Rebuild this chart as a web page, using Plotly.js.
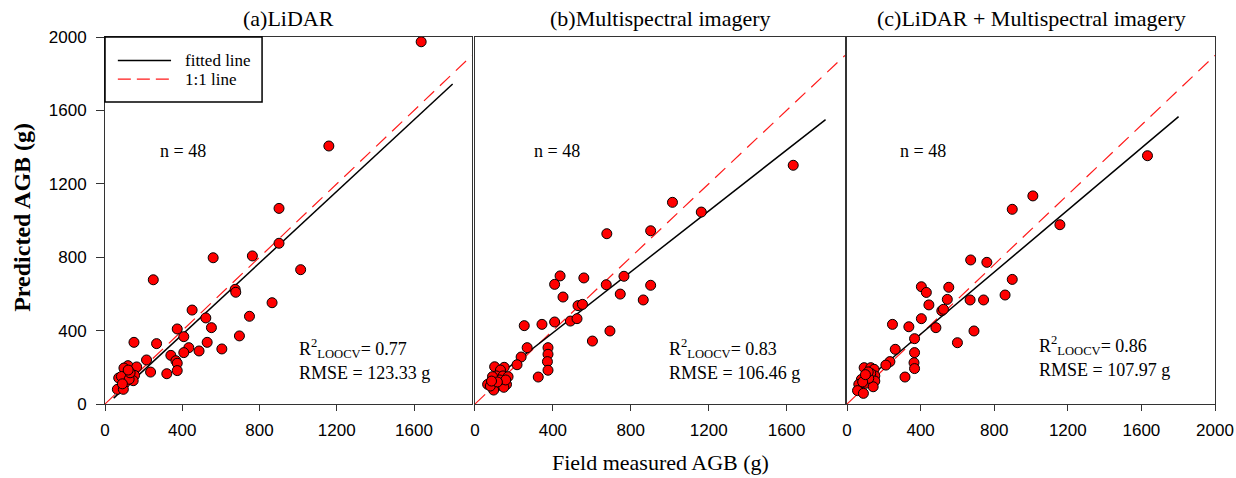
<!DOCTYPE html>
<html>
<head>
<meta charset="utf-8">
<script src="https://cdn.plot.ly/plotly-3.0.1.min.js"></script>
<style>
  html, body { margin: 0; padding: 0; background: #ffffff; }
  #chart { width: 1236px; height: 478px; }
</style>
</head>
<body>
<div id="chart"></div>
<script>
// ---------- Data ----------
// (a) LiDAR
const lidarObserved = [1637,1159,901,901,560,763,1013,250,674,677,865,451,522,748,551,374,696,408,150,267,529,434,605,487,408,341,215,367,374,374,236,320,119,164,98,71,112,140,153,146,102,64,95,85,125,130,90,120];
const lidarPredicted = [1974,1406,1066,876,797,807,732,677,625,609,552,512,469,478,416,409,371,367,336,329,336,307,300,289,280,265,240,236,222,182,174,165,209,202,196,142,153,147,156,127,113,80,80,150,135,170,110,185];
// (b) Multispectral imagery
const msObserved = [1634,1014,1162,677,902,437,409,559,765,674,902,452,746,864,529,552,253,344,409,490,524,693,603,268,375,375,237,372,216,375,325,101,150,131,110,144,170,65,121,162,96,148,79,127,158,90,115,85];
const msPredicted = [1301,1099,1046,928,944,698,652,687,696,650,647,583,599,567,536,543,427,434,447,452,465,398,343,307,307,271,256,231,214,184,147,203,200,185,153,153,149,107,102,107,76,91,98,131,131,149,120,125];
// (c) LiDAR + Multispectral imagery
const comboObserved = [1633,1010,898,1157,672,760,898,404,431,553,859,545,669,742,445,515,524,247,336,404,483,690,600,367,262,367,233,211,364,367,315,93,129,147,107,151,129,78,102,151,64,142,57,89,118,115,85,100];
const comboPredicted = [1353,1134,1061,977,785,772,679,639,608,636,594,570,567,567,540,508,516,434,421,465,416,398,334,356,298,280,231,212,225,193,147,198,198,189,149,153,167,134,113,125,107,94,73,58,140,175,120,160];

// Fitted regression lines (end points)
const fitA_x = [45, 1800], fitA_y = [32, 1744];
const fitB_x = [70, 1800], fitB_y = [114, 1550];
const fitC_x = [61, 1802], fitC_y = [94, 1566];
// 1:1 reference lines as drawn in each panel
const refA_x = [0, 1900], refA_y = [0, 1900];
const refB_x = [0, 1900], refB_y = [0, 1900];
const refC_x = [0, 2000], refC_y = [0, 1900];

const panelTitles = ['(a)LiDAR', '(b)Multispectral imagery', '(c)LiDAR + Multispectral imagery'];
const legendLabels = ['fitted line', '1:1 line'];
const nLabel = 'n = 48';
const r2Labels = ['R<sup>2</sup><sub>LOOCV</sub>= 0.77', 'R<sup>2</sup><sub>LOOCV</sub>= 0.83', 'R<sup>2</sup><sub>LOOCV</sub>= 0.86'];
const rmseLabels = ['RMSE = 123.33 g', 'RMSE = 106.46 g', 'RMSE = 107.97 g'];
const xTicksAB = [0, 400, 800, 1200, 1600];
const xTicksC = [0, 400, 800, 1200, 1600, 2000];
const yTicks = [0, 400, 800, 1200, 1600, 2000];

// ---------- Styling ----------
const SERIF = 'Liberation Serif, Times New Roman, serif';
const SANS = 'Liberation Sans, Arial, sans-serif';
const markerStyle = { size: 10, color: '#ff0000', line: { color: '#000000', width: 1 } };
const fitStyle = { color: '#000000', width: 1.5 };
const refStyle = { color: '#ff1a1a', width: 1.2, dash: '14px,8px' };

function panel(obsX, predY, fx, fy, rx, ry, xa, ya) {
  return [
    { x: rx, y: ry, xaxis: xa, yaxis: ya, type: 'scatter', mode: 'lines', name: legendLabels[1],
      line: refStyle, showlegend: false, hoverinfo: 'skip' },
    { x: fx, y: fy, xaxis: xa, yaxis: ya, type: 'scatter', mode: 'lines', name: legendLabels[0],
      line: fitStyle, showlegend: false, hoverinfo: 'skip' },
    { x: obsX, y: predY, xaxis: xa, yaxis: ya, type: 'scatter', mode: 'markers', name: 'samples',
      marker: markerStyle, showlegend: false, cliponaxis: false }
  ];
}

const traces = [].concat(
  panel(lidarObserved, lidarPredicted, fitA_x, fitA_y, refA_x, refA_y, 'x', 'y'),
  panel(msObserved, msPredicted, fitB_x, fitB_y, refB_x, refB_y, 'x2', 'y2'),
  panel(comboObserved, comboPredicted, fitC_x, fitC_y, refC_x, refC_y, 'x3', 'y3')
);

const frame = { showline: true, mirror: true, linecolor: '#333333', linewidth: 1,
  showgrid: false, zeroline: false, fixedrange: true };

function xaxis(domain, range, ticks, anchor) {
  return Object.assign({}, frame, {
    domain: domain, range: range, anchor: anchor,
    tickmode: 'array', tickvals: ticks, ticktext: ticks.map(String),
    ticks: 'outside', ticklen: 6, tickcolor: '#333333', ticklabelstandoff: 5,
    tickfont: { family: SANS, size: 17, color: '#000000' }
  });
}
function yaxis(anchor, labels) {
  return Object.assign({}, frame, {
    domain: [0, 1], range: [0, 2000], anchor: anchor,
    tickmode: 'array', tickvals: yTicks, ticktext: yTicks.map(String),
    ticks: labels ? 'outside' : '', ticklen: 8, tickcolor: '#333333',
    showticklabels: labels, ticklabelstandoff: 6,
    tickfont: { family: SANS, size: 17, color: '#000000' }
  });
}

const textFont = { family: SERIF, size: 18, color: '#000000' };
const annotations = [];
const shapes = [];
const xrefs = ['x', 'x2', 'x3'], yrefs = ['y', 'y2', 'y3'];
const nPos = [403, 423, 411];
const statX = [992, 988, 1030];
const r2Y = [300, 300, 318];
const rmseY = [169, 169, 185];
for (let i = 0; i < 3; i++) {
  annotations.push({ text: panelTitles[i], xref: xrefs[i] + ' domain', x: 0.5, yref: 'paper', y: 1.05,
    xanchor: 'center', yanchor: 'middle', showarrow: false, font: { family: SERIF, size: 22, color: '#000' } });
  annotations.push({ text: nLabel, xref: xrefs[i], x: nPos[i], yref: yrefs[i], y: 1379,
    xanchor: 'center', yanchor: 'middle', showarrow: false, font: textFont });
  annotations.push({ text: r2Labels[i], xref: xrefs[i], x: statX[i], yref: yrefs[i], y: r2Y[i],
    xanchor: 'left', yanchor: 'middle', showarrow: false, font: textFont });
  annotations.push({ text: rmseLabels[i], xref: xrefs[i], x: statX[i], yref: yrefs[i], y: rmseY[i],
    xanchor: 'left', yanchor: 'middle', showarrow: false, font: textFont });
}
annotations.push({ text: 'Field measured AGB (g)', xref: 'paper', x: 0.5, yref: 'paper', y: -0.16,
  xanchor: 'center', yanchor: 'middle', showarrow: false, font: { family: SERIF, size: 22, color: '#000' } });
annotations.push({ text: '<b>Predicted AGB (g)</b>', xref: 'paper', x: -0.0748, yref: 'paper', y: 0.51,
  xanchor: 'center', yanchor: 'middle', textangle: -90, showarrow: false, font: { family: SERIF, size: 24, color: '#000' } });

// ---------- Legend box inside panel (a) ----------
shapes.push({ type: 'rect', xref: 'x domain', yref: 'y domain', x0: 0, x1: 0.428, y0: 0.823, y1: 1,
  line: { color: '#000000', width: 1.5 }, fillcolor: '#ffffff', layer: 'above' });
shapes.push({ type: 'line', xref: 'x domain', yref: 'y domain', x0: 0.035, x1: 0.18, y0: 0.936, y1: 0.936,
  line: { color: '#000000', width: 1.5 }, layer: 'above' });
shapes.push({ type: 'line', xref: 'x domain', yref: 'y domain', x0: 0.035, x1: 0.18, y0: 0.885, y1: 0.885,
  line: { color: '#ff1a1a', width: 1.2, dash: '13px,6px' }, layer: 'above' });
annotations.push({ text: legendLabels[0], xref: 'x domain', x: 0.212, yref: 'y domain', y: 0.936,
  xanchor: 'left', yanchor: 'middle', showarrow: false, font: { family: SERIF, size: 17, color: '#000' } });
annotations.push({ text: legendLabels[1], xref: 'x domain', x: 0.212, yref: 'y domain', y: 0.885,
  xanchor: 'left', yanchor: 'middle', showarrow: false, font: { family: SERIF, size: 17, color: '#000' } });

const layout = {
  width: 1236, height: 478,
  margin: { l: 105, r: 21, t: 37, b: 74, pad: 0 },
  paper_bgcolor: '#ffffff', plot_bgcolor: '#ffffff',
  showlegend: false,
  xaxis: xaxis([0, 0.3306], [0, 1900], xTicksAB, 'y'),
  xaxis2: xaxis([0.3333, 0.6667], [0, 1900], xTicksAB, 'y2'),
  xaxis3: xaxis([0.6685, 1], [0, 2000], xTicksC, 'y3'),
  yaxis: yaxis('x', true),
  yaxis2: yaxis('x2', false),
  yaxis3: yaxis('x3', false),
  annotations: annotations,
  shapes: shapes
};

Plotly.newPlot('chart', traces, layout, { displayModeBar: false, staticPlot: true });
</script>
</body>
</html>
